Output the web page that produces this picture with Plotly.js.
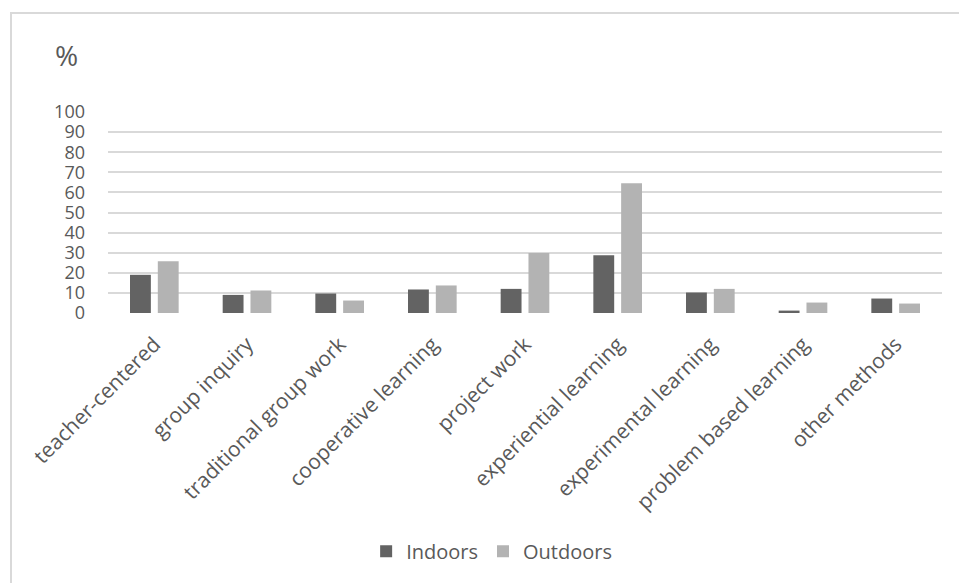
<!DOCTYPE html>
<html>
<head>
<meta charset="utf-8">
<script src="https://cdn.plot.ly/plotly-3.0.1.min.js"></script>
<style>
html,body{margin:0;padding:0;background:#fff;overflow:hidden;}
#wrap{position:relative;width:959px;height:583px;}
#chart{width:959px;height:583px;}
#frame{position:absolute;left:10px;top:12px;width:1000px;height:700px;border:2px solid #d9d9d9;pointer-events:none;box-sizing:border-box;}
</style>
</head>
<body>
<div id="wrap"><div id="chart"></div><div id="frame"></div></div>
<script>
const categories = ["teacher-centered","group inquiry","traditional group work","cooperative learning","project work","experiential learning","experimental learning","problem based learning","other methods"];
const indoors = [19, 9, 9.7, 11.7, 12, 28.7, 10.2, 1.2, 7.2];
const outdoors = [25.7, 11.2, 6.2, 13.7, 29.8, 64.6, 12, 5.2, 4.7];
const yTicks = [0,10,20,30,40,50,60,70,80,90,100];

const font = "'Open Sans', Lato, sans-serif";
const txt = "#595959";

const data = [
  {type:"bar", name:"Indoors", x:categories, y:indoors, marker:{color:"#636363"}},
  {type:"bar", name:"Outdoors", x:categories, y:outdoors, marker:{color:"#b3b3b3"}}
];

const layout = {
  width:959, height:583,
  margin:{l:108, r:17, t:112, b:270, pad:0},
  paper_bgcolor:"#fff", plot_bgcolor:"#fff",
  barmode:"group", bargap:0.40, bargroupgap:0.25,
  font:{family:font, color:txt, size:18},
  showlegend:true,
  legend:{orientation:"h", x:0.46, xanchor:"center", y:-1.185, yanchor:"middle",
          font:{family:font, size:20, color:txt}, itemwidth:30, traceorder:"normal"},
  xaxis:{type:"category", tickangle:-45, showgrid:false, zeroline:false, showline:false,
         ticks:"", tickfont:{family:font, size:21, color:txt}, ticklabelstandoff:14, fixedrange:true},
  yaxis:{range:[0,100], tickvals:yTicks, ticktext:yTicks.map(String), showgrid:true,
         gridcolor:"#d9d9d9", gridwidth:2, zeroline:false, showline:false, ticks:"",
         tickfont:{family:font, size:18, color:txt}, ticklabelstandoff:22, fixedrange:true},
  annotations:[{text:"%", xref:"paper", yref:"paper", x:-0.05, y:1.0, xanchor:"center", yanchor:"bottom",
                yshift:36, showarrow:false, font:{family:font, size:28, color:txt}}]
};

Plotly.newPlot("chart", data, layout, {displayModeBar:false, staticPlot:true});
</script>
</body>
</html>
